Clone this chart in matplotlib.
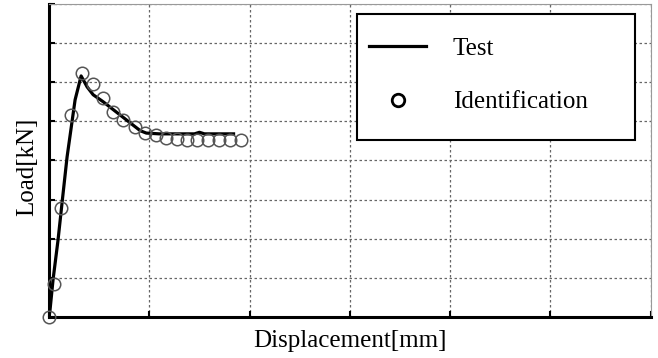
import matplotlib
matplotlib.use('Agg')
import matplotlib.pyplot as plt
from matplotlib.patches import Rectangle

plt.rcParams['font.family'] = ['Liberation Serif', 'DejaVu Serif']

# Test curve
test_x = [0, 0.01, 0.04, 0.09, 0.13, 0.18, 0.26, 0.32, 0.38, 0.44, 0.54,
          0.68, 0.81, 0.91, 0.97, 1.1, 1.3, 1.45, 1.5, 1.55, 1.7, 1.84]
test_y = [0, 0.18, 0.95, 1.97, 2.92, 4.09, 5.55, 6.16, 5.88, 5.68, 5.5,
          5.22, 4.96, 4.76, 4.7, 4.68, 4.68, 4.68, 4.72, 4.68, 4.68, 4.68]

# Identified points
ident_x = [0, 0.05, 0.12, 0.22, 0.33, 0.44, 0.54, 0.64, 0.74, 0.86, 0.96, 1.07,
           1.17, 1.28, 1.38, 1.48, 1.59, 1.69, 1.8, 1.91]
ident_y = [0, 0.84, 2.79, 5.17, 6.24, 5.95, 5.6, 5.24, 5.04, 4.86, 4.7, 4.65,
           4.58, 4.55, 4.53, 4.53, 4.53, 4.53, 4.53, 4.53]

fig = plt.figure(figsize=(6.58, 3.58), dpi=100)
ax = fig.add_axes([0.0745, 0.1145, 0.9145, 0.8745])

ax.plot(test_x, test_y, color='black', lw=2.3, label='Test', zorder=3)
ax.plot(ident_x, ident_y, 'o', mfc='none', mec='#555555', mew=1.1, ms=9,
        label='Identification', zorder=4, clip_on=False)

ax.set_xlim(0, 6)
ax.set_ylim(0, 8)
ax.set_xticks(range(0, 7))
ax.set_yticks(range(0, 9))
ax.set_xticklabels([])
ax.set_yticklabels([])
ax.tick_params(direction='in', length=4, width=1.5, colors='black')
ax.grid(True, color='#666666', ls=(0, (2, 2)), lw=0.9)

for s in ['left', 'bottom']:
    ax.spines[s].set_linewidth(2.2)
    ax.spines[s].set_color('black')
for s in ['top', 'right']:
    ax.spines[s].set_linewidth(0.8)
    ax.spines[s].set_color('#999999')

ax.set_xlabel('Displacement[mm]', fontsize=18, labelpad=6)
ax.set_ylabel('Load[kN]', fontsize=18, labelpad=6)
ax.yaxis.set_label_coords(-0.018, 0.48)

# legend box drawn separately so its size can follow the reference
ax.add_patch(Rectangle((0.5116, 0.5655), 0.4618, 0.4025, transform=ax.transAxes,
                       facecolor='white', edgecolor='black', lw=1.5, zorder=5))
leg = ax.legend(loc='upper left', bbox_to_anchor=(0.5316, 0.894),
                fontsize=18, frameon=False,
                handlelength=2.3, handletextpad=1.05, labelspacing=1.25,
                borderpad=0, borderaxespad=0)
leg.set_zorder(6)
leg.legend_handles[1].set_markeredgecolor('black')
leg.legend_handles[1].set_markeredgewidth(2)

fig.savefig('out.png', dpi=100)
